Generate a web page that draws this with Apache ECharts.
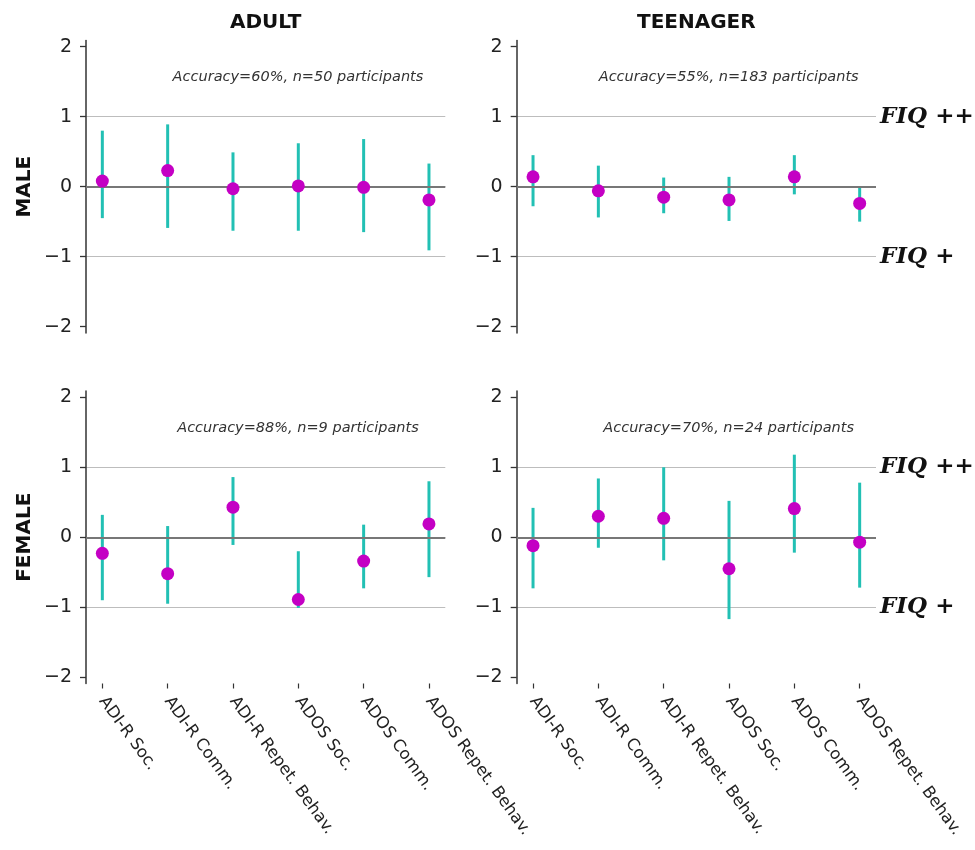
<!DOCTYPE html>
<html><head><meta charset="utf-8">
<script src="https://cdn.jsdelivr.net/npm/echarts@6/dist/echarts.min.js"></script>
<style>html,body{margin:0;padding:0;background:#fff}#c{width:975px;height:850px}</style>
</head><body><div id="c"></div>
<script>
// ---------------- data ----------------
const categories = ['ADI-R Soc.', 'ADI-R Comm.', 'ADI-R Repet. Behav.', 'ADOS Soc.', 'ADOS Comm.', 'ADOS Repet. Behav.'];
const categoryIndex = [0, 1, 2, 3, 4, 5];
const yTicks = [-2, -1, 0, 1, 2];

const adultMaleMean = [0.08, 0.23, -0.03, 0.01, -0.01, -0.19];
const adultMaleLow  = [-0.45, -0.59, -0.63, -0.63, -0.65, -0.91];
const adultMaleHigh = [0.80, 0.89, 0.49, 0.62, 0.68, 0.33];

const teenMaleMean = [0.14, -0.06, -0.15, -0.19, 0.14, -0.24];
const teenMaleLow  = [-0.28, -0.44, -0.38, -0.49, -0.11, -0.50];
const teenMaleHigh = [0.45, 0.30, 0.13, 0.14, 0.45, -0.01];

const adultFemaleMean = [-0.23, -0.52, 0.43, -0.89, -0.34, 0.19];
const adultFemaleLow  = [-0.90, -0.95, -0.11, -1.01, -0.73, -0.57];
const adultFemaleHigh = [0.32, 0.16, 0.86, -0.20, 0.18, 0.80];

const teenFemaleMean = [-0.12, 0.30, 0.27, -0.45, 0.41, -0.07];
const teenFemaleLow  = [-0.73, -0.15, -0.33, -1.17, -0.22, -0.72];
const teenFemaleHigh = [0.42, 0.84, 1.00, 0.52, 1.18, 0.78];

const accuracyNotes = ['Accuracy=60%, n=50 participants', 'Accuracy=55%, n=183 participants',
                       'Accuracy=88%, n=9 participants', 'Accuracy=70%, n=24 participants'];
const columnTitles = ['ADULT', 'TEENAGER'];
const rowTitles = ['MALE', 'FEMALE'];
const fiqLabels = ['FIQ ++', 'FIQ +'];
const fiqLevels = [1, -1];

// ---------------- layout / style ----------------
const TEAL = '#22c0b4';
const MAGENTA = '#c400c4';
const GRID_LEFT = [86, 516.7];
const GRID_TOP = [40.4, 391];
const GRID_W = 359.3;
const GRID_H = 292.5;
const FONT = 'DejaVu Sans';

const panels = [
  { r: 0, c: 0, mean: adultMaleMean, low: adultMaleLow, high: adultMaleHigh, note: accuracyNotes[0] },
  { r: 0, c: 1, mean: teenMaleMean, low: teenMaleLow, high: teenMaleHigh, note: accuracyNotes[1] },
  { r: 1, c: 0, mean: adultFemaleMean, low: adultFemaleLow, high: adultFemaleHigh, note: accuracyNotes[2] },
  { r: 1, c: 1, mean: teenFemaleMean, low: teenFemaleLow, high: teenFemaleHigh, note: accuracyNotes[3] }
];

const grids = [], xAxes = [], yAxes = [], series = [], graphics = [];

panels.forEach((p, k) => {
  const bottom = p.r === 1;
  grids.push({ left: GRID_LEFT[p.c], top: GRID_TOP[p.r], width: GRID_W, height: GRID_H,
               containLabel: false, outerBoundsMode: 'none' });
  xAxes.push({
    type: 'value', gridIndex: k, min: -0.25, max: 5.25, minInterval: 1, maxInterval: 1,
    axisLine: { show: false, onZero: false }, splitLine: { show: false },
    axisTick: { show: bottom, customValues: categoryIndex, length: 5, lineStyle: { color: '#333', width: 1.2 } },
    axisLabel: { show: bottom, customValues: categoryIndex, formatter: v => categories[Math.round(v)],
                 rotate: -54, fontSize: 16.5, margin: 15, color: '#222', fontFamily: FONT }
  });
  yAxes.push({
    type: 'value', gridIndex: k, min: -2.09, max: 2.09, minInterval: 1, maxInterval: 1,
    axisLine: { show: true, onZero: false, lineStyle: { color: '#333', width: 1.5 } },
    axisTick: { show: true, customValues: yTicks, length: 6, lineStyle: { color: '#333', width: 1.3 } },
    axisLabel: { customValues: yTicks, fontSize: 19, color: '#222', margin: 14, fontFamily: FONT,
                 formatter: v => (v < 0 ? '\u2212' + Math.abs(v) : String(v)) },
    splitLine: { show: true, showMinLine: false, showMaxLine: false, lineStyle: { color: '#bdbdbd', width: 1 } }
  });
  series.push({
    type: 'custom', xAxisIndex: k, yAxisIndex: k, z: 2,
    data: categoryIndex.map(i => [i, p.low[i], p.high[i]]),
    encode: { x: 0, y: [1, 2] },
    renderItem: (params, api) => {
      const x = api.value(0);
      const a = api.coord([x, api.value(1)]);
      const b = api.coord([x, api.value(2)]);
      return { type: 'line', shape: { x1: a[0], y1: a[1], x2: b[0], y2: b[1] },
               style: { stroke: TEAL, lineWidth: 3 } };
    },
    markLine: {
      silent: true, symbol: 'none', animation: false,
      label: { show: false },
      lineStyle: { color: '#777', width: 2, type: 'solid' },
      data: [{ yAxis: 0 }]
    }
  });
  const sc = {
    type: 'scatter', xAxisIndex: k, yAxisIndex: k, z: 5,
    symbol: 'circle', symbolSize: 13,
    itemStyle: { color: MAGENTA, opacity: 1 },
    data: categoryIndex.map(i => [i, p.mean[i]])
  };
  if (p.c === 1) {
    sc.markLine = {
      silent: true, symbol: 'none', animation: false,
      lineStyle: { color: 'rgba(0,0,0,0)', width: 0.01, type: 'solid' },
      label: { show: true, position: 'end', distance: 4, fontFamily: 'DejaVu Serif',
               fontWeight: 'bold', fontStyle: 'italic', fontSize: 23, color: '#111' },
      data: fiqLevels.map((lv, j) => ({ yAxis: lv, label: { show: true, formatter: fiqLabels[j] } }))
    };
  }
  series.push(sc);

  // accuracy note
  graphics.push({
    type: 'text', silent: true,
    x: GRID_LEFT[p.c] + GRID_W * 0.59, y: GRID_TOP[p.r] + 37,
    style: { text: p.note, fontFamily: FONT, fontStyle: 'italic', fontSize: 14.5, fill: '#333',
             textAlign: 'center', textVerticalAlign: 'middle' }
  });
});

columnTitles.forEach((t, c) => {
  graphics.push({ type: 'text', silent: true, x: GRID_LEFT[c] + GRID_W / 2, y: 23,
    style: { text: t, fontFamily: FONT, fontWeight: 'bold', fontSize: 20, fill: '#111',
             textAlign: 'center', textVerticalAlign: 'middle' } });
});
rowTitles.forEach((t, r) => {
  graphics.push({ type: 'text', silent: true, x: 25, y: GRID_TOP[r] + GRID_H / 2, rotation: Math.PI / 2,
    style: { text: t, fontFamily: FONT, fontWeight: 'bold', fontSize: 20, fill: '#111',
             textAlign: 'center', textVerticalAlign: 'middle' } });
});

const chart = echarts.init(document.getElementById('c'), null, { renderer: 'canvas' });
chart.setOption({
  animation: false,
  backgroundColor: '#fff',
  textStyle: { fontFamily: FONT },
  grid: grids, xAxis: xAxes, yAxis: yAxes, series: series, graphic: graphics
});
</script></body></html>
